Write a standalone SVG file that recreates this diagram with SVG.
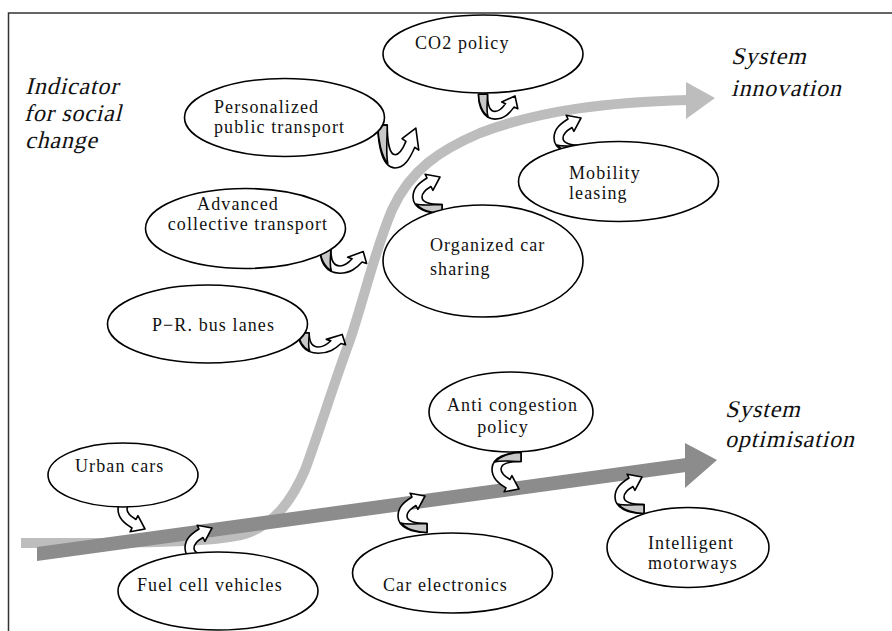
<svg xmlns="http://www.w3.org/2000/svg" xmlns:xlink="http://www.w3.org/1999/xlink" width="892" height="631" viewBox="0 0 892 631">
<style>
.node ellipse{fill:#fff;stroke:#000;stroke-width:1.6}
.nt{font-family:"Liberation Serif","Times New Roman",serif;font-size:18px;letter-spacing:1.1px;fill:#111}
.lab{font-family:"Liberation Serif","Times New Roman",serif;font-size:24px;letter-spacing:0.8px;fill:#111}
.hk path{vector-effect:non-scaling-stroke;stroke:#000;stroke-width:1.6;stroke-linejoin:round}
</style>
<defs>
<g id="hook" class="hk">
<path d="M30,40.5 C16,40.5 1,36 1,24 C1,15 7,10 15,5 L13.1,1.2 L28,4 L20.9,17.3 L19,13.5 C13,17 10,20 10,24 C10,29 18,31.5 30,31.5 Z" fill="#fff"/>
<path d="M30,31.5 L30,40.5 C20,40.5 9,37 4,31 C11,33 20,31.5 30,31.5 Z" fill="#c8c8c8"/>
</g>
</defs>
<rect x="8.5" y="13" width="900" height="700" fill="#fff" stroke="#333" stroke-width="1.5"/>

<g id="connectors">
<path d="M21,543 C130,543 215,543 245,534 C275,524 292,500 305,470 C318,435 335,380 350,340 C365,295 375,250 392,210 C410,170 440,150 480,133 C540,110 610,102 688,100" fill="none" stroke="#bdbdbd" stroke-width="10"/>
<polygon points="686,82 715,98 686,119" fill="#bdbdbd"/>
<polygon points="37,547 686,458 686,472 37,561" fill="#8c8c8c"/>
<polygon points="685,443 717,460 685,488" fill="#8c8c8c"/>
<use xlink:href="#hook" transform="translate(184,524)"/>
<use xlink:href="#hook" transform="translate(397,492)"/>
<use xlink:href="#hook" transform="translate(614,473)"/>
<use xlink:href="#hook" transform="translate(412,173)"/>
<use xlink:href="#hook" transform="translate(553,114)"/>
<use xlink:href="#hook" transform="translate(117,533) scale(1,-1)"/>
<use xlink:href="#hook" transform="translate(491,493) scale(1,-1)"/>
<use xlink:href="#hook" transform="matrix(0,-0.86,-1,0,519,120)"/>
<use xlink:href="#hook" transform="matrix(0,-1.48,-1.04,0,420,169.5)"/>
<use xlink:href="#hook" transform="matrix(0,-0.8,-1.18,0,368,274)"/>
<use xlink:href="#hook" transform="matrix(0,-0.7,-1.2,0,347,354)"/>
</g>

<g id="label-social">
<text class="lab" transform="translate(25,94) skewX(-14)">Indicator</text>
<text class="lab" transform="translate(24,121) skewX(-14)">for social</text>
<text class="lab" transform="translate(25,148) skewX(-14)">change</text>
</g>
<g id="label-innovation">
<text class="lab" transform="translate(731,64) skewX(-14)">System</text>
<text class="lab" transform="translate(731,96) skewX(-14)">innovation</text>
</g>
<g id="label-optimisation">
<text class="lab" transform="translate(725,417) skewX(-14)">System</text>
<text class="lab" transform="translate(725,447) skewX(-14)">optimisation</text>
</g>

<g id="co2-policy" class="node"><ellipse cx="483" cy="54" rx="100" ry="39"/><text class="nt" x="415" y="49">CO2 policy</text></g>
<g id="personalized-public-transport" class="node"><ellipse cx="284.5" cy="117.5" rx="100" ry="39"/><text class="nt" x="214" y="113">Personalized</text><text class="nt" x="214" y="133">public transport</text></g>
<g id="advanced-collective-transport" class="node"><ellipse cx="245.5" cy="228.5" rx="100" ry="40"/><text class="nt" x="238" y="210" text-anchor="middle">Advanced</text><text class="nt" x="248" y="230" text-anchor="middle">collective transport</text></g>
<g id="pr-bus-lanes" class="node"><ellipse cx="207.5" cy="324" rx="100" ry="39"/><text class="nt" x="152" y="331">P−R. bus lanes</text></g>
<g id="organized-car-sharing" class="node"><ellipse cx="483" cy="261" rx="100" ry="56"/><text class="nt" x="430" y="251">Organized car</text><text class="nt" x="430" y="275">sharing</text></g>
<g id="mobility-leasing" class="node"><ellipse cx="618.5" cy="181.5" rx="100" ry="40"/><text class="nt" x="569" y="179">Mobility</text><text class="nt" x="569" y="199">leasing</text></g>
<g id="anti-congestion-policy" class="node"><ellipse cx="511" cy="412" rx="82" ry="40"/><text class="nt" x="447" y="411">Anti congestion</text><text class="nt" x="503" y="433" text-anchor="middle">policy</text></g>
<g id="urban-cars" class="node"><ellipse cx="123" cy="475" rx="75" ry="32"/><text class="nt" x="75" y="472">Urban cars</text></g>
<g id="fuel-cell-vehicles" class="node"><ellipse cx="218" cy="591" rx="100" ry="39"/><text class="nt" x="137" y="591">Fuel cell vehicles</text></g>
<g id="car-electronics" class="node"><ellipse cx="452.5" cy="573" rx="100" ry="40"/><text class="nt" x="383" y="591">Car electronics</text></g>
<g id="intelligent-motorways" class="node"><ellipse cx="688" cy="547.5" rx="81" ry="40"/><text class="nt" x="648" y="549">Intelligent</text><text class="nt" x="648" y="569">motorways</text></g>
</svg>
